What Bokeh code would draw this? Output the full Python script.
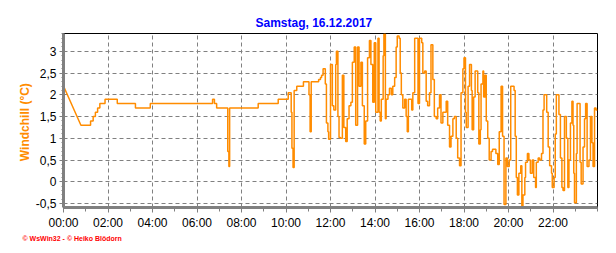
from bokeh.plotting import figure
from bokeh.models import Range1d, FixedTicker, Title
from bokeh.embed import file_html
from bokeh.resources import INLINE

# time of sample in minutes since midnight, windchill in °C
minutes = [0, 47, 73, 80, 86, 92, 98, 112, 145, 194, 234, 402,
           407, 413, 443, 446, 448, 525, 579, 606, 614, 616, 619, 622, 629, 647, 662, 665, 668,
           688, 693, 696, 700, 706, 709, 713, 715, 720, 725, 729, 734, 736, 740, 743, 747, 752,
           756, 761, 765, 770, 775, 779, 784, 788, 793, 797, 802, 806, 811, 815, 820, 825, 829,
           834, 838, 842, 848, 851, 854, 857, 862, 864, 868, 870, 875, 879, 884, 888, 893, 897,
           900, 905, 908, 911, 915, 920, 924, 927, 930, 939, 942, 947, 956, 960, 966, 969, 974,
           978, 982, 987, 991, 996, 1000, 1005, 1009, 1014, 1018, 1023, 1027, 1032, 1036, 1041,
           1045, 1050, 1054, 1059, 1063, 1068, 1072, 1077, 1080, 1084, 1086, 1091, 1095, 1100,
           1102, 1106, 1110, 1117, 1120, 1124, 1126, 1131, 1133, 1137, 1140, 1144, 1148, 1153,
           1157, 1166, 1171, 1175, 1180, 1184, 1188, 1193, 1197, 1202, 1206, 1215, 1218, 1221,
           1224, 1228, 1233, 1236, 1239, 1244, 1246, 1251, 1255, 1259, 1264, 1268, 1273, 1275,
           1280, 1284, 1289, 1293, 1296, 1303, 1307, 1311, 1316, 1318, 1323, 1326, 1329, 1336,
           1340, 1344, 1347, 1351, 1356, 1360, 1363, 1367, 1371, 1374, 1376, 1378, 1383, 1385,
           1393, 1396, 1401, 1405, 1408, 1412, 1417, 1421, 1425, 1428, 1432, 1436]
windchill = [2.2, 1.3, 1.4, 1.5, 1.6, 1.7, 1.8, 1.9, 1.8, 1.7, 1.8, 1.9,
             1.8, 1.7, 0.7, 0.35, 1.7, 1.8, 1.9, 2.05, 1.6, 0.77, 0.33, 2.1, 2.2, 2.3, 2.0, 1.15, 2.3,
             2.35, 2.4, 2.45, 2.6, 2.25, 1.35, 1.15, 0.98, 2.7, 1.75, 1.65, 2.7, 3.0, 1.5, 1.02, 1.0, 2.45,
             1.25, 0.93, 1.45, 1.75, 1.83, 2.75, 3.1, 1.3, 3.1, 2.2, 2.75, 1.75, 0.87, 1.4, 2.85, 3.25, 2.7,
             1.83, 3.2, 1.6, 3.3, 1.6, 1.4, 1.9, 2.9, 3.4, 1.45, 1.9, 2.0, 2.15, 2.0, 2.2, 2.4, 3.1,
             3.35, 3.3, 2.5, 2.0, 1.7, 1.9, 1.5, 1.15, 1.9, 1.65, 2.05, 3.3, 1.8, 3.3, 3.2, 2.5, 2.55,
             1.85, 1.75, 2.05, 3.15, 2.35, 1.5, 1.45, 1.7, 2.0, 1.35, 1.6, 1.6, 1.85, 1.3, 0.8,
             1.05, 1.45, 1.5, 1.0, 0.55, 0.37, 2.05, 2.6, 2.85, 1.6, 1.25, 2.2, 2.7, 2.1,
             1.2, 1.95, 2.55, 2.05, 0.87, 1.2, 2.25, 2.55, 1.95, 2.45, 1.4, 1.0, 0.5, 0.7,
             0.75, 0.65, 0.4, 1.15, 2.2, 1.05, -0.52, 0.55, 0.35, 0.5, 2.2, 2.1, 1.05, 0.1,
             -0.3, 0.2, 0.37, -0.6, -0.3, 0.1, 0.45, 0.65, 0.5, 0.2, 0.5, 0.1, -0.13, 0.45,
             0.55, 0.5, 0.65, 1.65, 2.0, 1.6, 0.8, 0.37, 0.2, -0.13, 0.1, 1.1, 2.0, 1.55,
             0.55, -0.13, -0.2, 1.5, 1.0, -0.13, 0.5, 1.35, 1.85, 1.3, 0.2, -0.48, 0.65, 1.8,
             0.45, -0.05, 0.8, 1.45, 1.8, 0.35, 0.5, 1.5, 0.9, 0.35, 1.7, 1.65]

x_ticks = [0, 120, 240, 360, 480, 600, 720, 840, 960, 1080, 1200, 1320]
x_tick_labels = ["00:00", "02:00", "04:00", "06:00", "08:00", "10:00",
                 "12:00", "14:00", "16:00", "18:00", "20:00", "22:00"]
y_ticks = [-0.5, 0, 0.5, 1, 1.5, 2, 2.5, 3]
y_tick_labels = ["-0,5", "0", "0,5", "1", "1,5", "2", "2,5", "3"]

title_text = "Samstag, 16.12.2017"
y_label = "Windchill  (°C)"
footer_text = "© WsWin32  -  © Heiko Blödorn"

FONT = "Liberation Sans"
ORANGE = "#FF8C00"
GRAY = "#808080"

# the first stretch (falling from 2.2 to 1.3) is a straight ramp, the rest is drawn in steps
xs, ys = [], []
for i, (t, v) in enumerate(zip(minutes, windchill)):
    if i > 0 and minutes[i - 1] > 0:
        xs.append(t)
        ys.append(windchill[i - 1])
    xs.append(t)
    ys.append(v)
xs.append(1440)
ys.append(windchill[-1])

p = figure(width=616, height=253, output_backend="svg", toolbar_location=None,
           x_range=Range1d(0, 1440), y_range=Range1d(-0.59, 3.41),
           min_border_left=63, min_border_right=19, min_border_top=33, min_border_bottom=46,
           background_fill_color="white", border_fill_color="white")

p.line(xs, ys, line_color=ORANGE, line_width=1.5)

p.outline_line_color = "black"
p.outline_line_width = 1

# grids
p.xgrid.ticker = FixedTicker(ticks=x_ticks)
p.ygrid.ticker = FixedTicker(ticks=y_ticks)
for g in (p.xgrid, p.ygrid):
    g.grid_line_color = GRAY
    g.grid_line_dash = "4 3"
    g.grid_line_width = 1

# axes
p.xaxis.ticker = FixedTicker(ticks=x_ticks, minor_ticks=list(range(0, 1441, 60)))
p.xaxis.major_label_overrides = dict(zip(x_ticks, x_tick_labels))
p.yaxis.ticker = FixedTicker(ticks=y_ticks, minor_ticks=[round(-0.5 + 0.1 * i, 1) for i in range(40)])
p.yaxis.major_label_overrides = dict(zip(y_ticks, y_tick_labels))

for ax in (p.xaxis, p.yaxis):
    ax.axis_line_color = GRAY
    ax.axis_line_width = 3
    ax.major_tick_line_color = GRAY
    ax.minor_tick_line_color = GRAY
    ax.major_tick_in = 0
    ax.minor_tick_in = 0
    ax.major_label_text_font = FONT
    ax.major_label_text_font_size = "12px"
    ax.major_label_text_color = "black"

p.xaxis.major_tick_out = 5
p.xaxis.minor_tick_out = 4
p.xaxis.major_label_standoff = 3
p.yaxis.major_tick_out = 4
p.yaxis.minor_tick_out = 2
p.yaxis.major_label_standoff = 3

p.yaxis.axis_label = y_label
p.yaxis.axis_label_text_color = ORANGE
p.yaxis.axis_label_text_font = FONT
p.yaxis.axis_label_text_font_style = "bold"
p.yaxis.axis_label_text_font_size = "12px"
p.yaxis.axis_label_standoff = 1

p.title.text = title_text
p.title.align = "left"
p.title.offset = 192
p.title.text_font = FONT
p.title.text_font_size = "12px"
p.title.text_font_style = "bold"
p.title.text_color = "#0000FF"
p.title.standoff = 8

footer = Title(text=footer_text, align="left", offset=-41, text_font=FONT,
               text_font_size="7px", text_font_style="bold", text_color="#FF0000",
               standoff=1)
p.add_layout(footer, "below")

open("out.html", "w").write(file_html(p, INLINE))
